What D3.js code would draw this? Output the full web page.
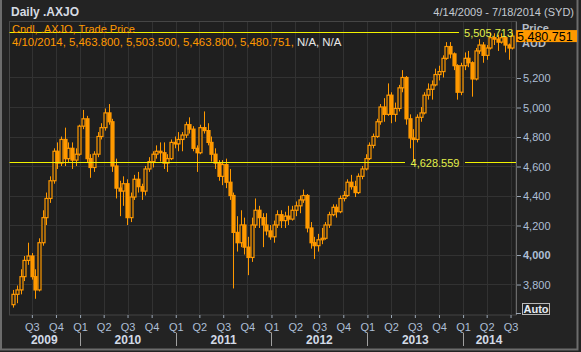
<!DOCTYPE html>
<html>
<head>
<meta charset="utf-8">
<script src="https://cdn.jsdelivr.net/npm/d3@7"></script>
<style>
    body { margin: 0; background: #232323; }
    svg { display: block; font-family: "Liberation Sans", Arial, sans-serif; }
</style>
</head>
<body>
<div id="chart"></div>
<script>

// Range shown on the chart, candles are two-week periods from the start date
const startDate = new Date(2009, 3, 14);
const endDate = new Date(2014, 6, 18);
const periodDays = 14;

const opens = [3660,3730,3760,3850,3960,3990,3850,3760,4080,4250,
    4380,4500,4700,4620,4780,4650,4720,4640,4680,4870,
    4920,4650,4590,4680,4800,4860,4960,4900,4600,4450,
    4430,4480,4250,4390,4510,4460,4430,4580,4630,4680,
    4700,4690,4620,4650,4760,4750,4780,4810,4880,4850,
    4720,4690,4860,4840,4760,4680,4620,4530,4610,4490,
    4400,4150,4080,4200,4050,3980,4200,4300,4250,4200,
    4160,4120,4200,4270,4230,4260,4240,4300,4330,4370,
    4400,4180,4080,4060,4100,4110,4200,4270,4320,4290,
    4380,4400,4490,4460,4420,4530,4580,4650,4740,4800,
    4900,5000,4950,5080,4950,4990,5130,5200,4920,4790,
    4780,4930,4960,5080,5120,5150,5220,5240,5330,5410,
    5360,5280,5100,5280,5330,5300,5190,5380,5420,5350,
    5400,5470,5460,5440,5470,5420,5400];

const highs = [3760,3790,3900,3990,4080,4010,3900,4110,4300,4420,
    4530,4720,4760,4800,4860,4760,4760,4720,4880,4980,
    4940,4680,4700,4830,4890,4990,5020,4920,4650,4500,
    4530,4510,4420,4540,4560,4480,4600,4660,4700,4740,
    4760,4760,4680,4780,4800,4830,4830,4900,4930,4870,
    4740,4880,4970,4890,4800,4720,4640,4640,4650,4580,
    4420,4260,4300,4250,4120,4250,4380,4330,4280,4280,
    4200,4230,4300,4300,4290,4330,4330,4360,4400,4440,
    4410,4220,4120,4140,4180,4220,4290,4340,4340,4400,
    4430,4510,4540,4500,4550,4600,4680,4760,4820,4920,
    5020,5060,5160,5100,5030,5150,5250,5210,4950,4850,
    4950,5000,5100,5160,5180,5260,5280,5350,5440,5440,
    5370,5290,5300,5370,5380,5310,5400,5460,5440,5420,
    5504,5500,5490,5500,5480,5430,5506];

const lows = [3640,3670,3730,3820,3930,3830,3700,3750,4060,4200,
    4350,4480,4580,4600,4600,4620,4580,4600,4670,4850,
    4620,4520,4560,4660,4780,4840,4880,4560,4380,4260,
    4330,4200,4220,4370,4420,4370,4400,4560,4590,4650,
    4630,4580,4560,4640,4720,4700,4700,4790,4820,4700,
    4560,4680,4820,4740,4630,4580,4500,4470,4450,4370,
    3770,4020,4050,4000,3860,3950,4180,4180,4050,4130,
    4100,4080,4180,4180,4180,4200,4230,4260,4280,4350,
    4150,4040,3970,4020,4070,4100,4180,4260,4250,4280,
    4360,4390,4440,4390,4410,4510,4570,4640,4720,4790,
    4880,4900,4940,4890,4900,4970,5100,4880,4720,4628,
    4760,4900,4950,5050,5050,5140,5180,5200,5320,5330,
    5250,5050,5080,5250,5270,5070,5180,5360,5300,5320,
    5390,5420,5380,5430,5370,5320,5390];

const closes = [3730,3760,3850,3960,3990,3850,3760,4080,4250,4380,
    4500,4700,4620,4780,4650,4720,4640,4680,4870,4920,
    4650,4590,4680,4800,4860,4960,4900,4600,4450,4430,
    4480,4250,4390,4510,4460,4430,4580,4630,4680,4700,
    4690,4620,4650,4760,4750,4780,4810,4880,4850,4720,
    4690,4860,4840,4760,4680,4620,4530,4610,4490,4400,
    4150,4080,4200,4050,3980,4200,4300,4250,4200,4160,
    4120,4200,4270,4230,4260,4240,4300,4330,4370,4400,
    4180,4080,4060,4100,4110,4200,4270,4320,4290,4380,
    4400,4490,4460,4420,4530,4580,4650,4740,4800,4900,
    5000,4950,5080,4950,4990,5130,5200,4920,4790,4780,
    4930,4960,5080,5120,5150,5220,5240,5330,5410,5360,
    5280,5100,5280,5330,5300,5190,5380,5420,5350,5400,
    5470,5460,5440,5470,5420,5400,5480.751];

const yTicks = [3800, 4000, 4200, 4400, 4600, 4800, 5000, 5200];
const years = [2009, 2010, 2011, 2012, 2013, 2014];
const markerLines = [5505.713, 4628.559];
const legendValues = ["4/10/2014", "5,463.800", "5,503.500", "5,463.800", "5,480.751"];
const lastPrice = 5480.751;


class CandleVis {

    constructor(_parentElement) {
        this.parentElement = _parentElement;
        this.initVis();
    }

    /*
     * Initialize visualization
     */
    initVis() {
        let vis = this;

        vis.width = 581;
        vis.height = 352;
        vis.plot = {left: 9.5, top: 21.5, right: 516, bottom: 315};

        vis.colors = {
            'bg': '#232323',
            'plotBg': '#1f1f1f',
            'grid': '#323232',
            'frame': '#454545',
            'orange': '#ff9900',
            'yellow': '#f2f200',
            'yellowText': '#e4f04a',
            'axisText': '#adbfd6',
            'yearText': '#d2dae6'
        }

        vis.svg = d3.select("#" + vis.parentElement).append("svg")
            .attr("width", vis.width)
            .attr("height", vis.height);

        // panel + window border
        vis.svg.append("rect")
            .attr("width", vis.width).attr("height", vis.height)
            .attr("fill", vis.colors.bg);
        vis.svg.append("path")
            .attr("d", "M1,0V349.5H577.5V0")
            .attr("fill", "none")
            .attr("stroke", "#6c6c6c")
            .attr("stroke-width", 2);

        // plot area
        vis.svg.append("rect")
            .attr("x", vis.plot.left).attr("y", vis.plot.top)
            .attr("width", vis.plot.right - vis.plot.left)
            .attr("height", vis.plot.bottom - vis.plot.top)
            .attr("fill", vis.colors.plotBg)
            .attr("stroke", vis.colors.frame);

        /*
         Scales
         */
        vis.x = d3.scaleTime()
            .domain([startDate, endDate])
            .range([11.4, 515]);

        vis.y = d3.scaleLinear()
            .domain([3590, 5583])
            .range([vis.plot.bottom, vis.plot.top - 0.5]);

        vis.gridGroup = vis.svg.append("g").attr("class", "grid");
        vis.candleGroup = vis.svg.append("g").attr("class", "candles");
        vis.markerGroup = vis.svg.append("g").attr("class", "markers");

        vis.wrangleData();
    }

    wrangleData() {
        let vis = this;

        vis.candles = closes.map((c, i) => {
            let d0 = d3.timeDay.offset(startDate, i * periodDays);
            return {
                date: d0,
                mid: d3.timeDay.offset(d0, periodDays / 2),
                open: opens[i],
                high: highs[i],
                low: lows[i],
                close: c
            };
        });

        vis.quarters = d3.timeMonth.every(3).range(startDate, endDate);
        vis.yearStarts = years.slice(1).map(yr => new Date(yr, 0, 1));

        vis.updateVis();
    }

    updateVis() {
        let vis = this;

        // gridlines
        vis.gridGroup.selectAll(".vgrid")
            .data(vis.quarters)
            .enter().append("line")
            .attr("class", "vgrid")
            .attr("x1", d => Math.round(vis.x(d)) + 0.5)
            .attr("x2", d => Math.round(vis.x(d)) + 0.5)
            .attr("y1", vis.plot.top + 0.5)
            .attr("y2", vis.plot.bottom)
            .attr("stroke", vis.colors.grid);

        vis.gridGroup.selectAll(".hgrid")
            .data(yTicks)
            .enter().append("line")
            .attr("class", "hgrid")
            .attr("x1", vis.plot.left + 0.5)
            .attr("x2", vis.plot.right)
            .attr("y1", d => Math.round(vis.y(d)) + 0.5)
            .attr("y2", d => Math.round(vis.y(d)) + 0.5)
            .attr("stroke", vis.colors.grid);

        // candles
        let bw = 3;
        let candle = vis.candleGroup.selectAll(".candle")
            .data(vis.candles)
            .enter().append("g")
            .attr("class", "candle");

        candle.append("line")
            .attr("x1", d => Math.round(vis.x(d.mid)) + 0.5)
            .attr("x2", d => Math.round(vis.x(d.mid)) + 0.5)
            .attr("y1", d => vis.y(d.high))
            .attr("y2", d => vis.y(d.low))
            .attr("stroke", vis.colors.orange)
            .attr("stroke-width", 1);

        candle.append("rect")
            .attr("x", d => Math.round(vis.x(d.mid)) + 0.5 - bw / 2)
            .attr("y", d => vis.y(Math.max(d.open, d.close)))
            .attr("width", bw)
            .attr("height", d => Math.max(1, Math.abs(vis.y(d.open) - vis.y(d.close))))
            .attr("fill", d => d.close >= d.open ? vis.colors.plotBg : vis.colors.orange)
            .attr("stroke", vis.colors.orange)
            .attr("stroke-width", 1.2);

        // horizontal marker lines with value labels
        let fmt = d3.format(",.3f");
        let labelPos = [{x: 513, anchor: "end", gap: [459, 516]}, {x: 435, anchor: "middle", gap: [405, 465]}];

        markerLines.forEach((v, i) => {
            let yy = Math.round(vis.y(v)) + 0.5;
            let p = labelPos[i];
            vis.markerGroup.append("line")
                .attr("x1", vis.plot.left).attr("x2", p.gap[0])
                .attr("y1", yy).attr("y2", yy)
                .attr("stroke", vis.colors.yellow);
            if (p.gap[1] < vis.plot.right) {
                vis.markerGroup.append("line")
                    .attr("x1", p.gap[1]).attr("x2", vis.plot.right)
                    .attr("y1", yy).attr("y2", yy)
                    .attr("stroke", vis.colors.yellow);
            }
            vis.markerGroup.append("text")
                .attr("x", p.x).attr("y", yy + 4)
                .attr("text-anchor", p.anchor)
                .attr("font-size", "11px")
                .attr("fill", vis.colors.yellowText)
                .text(fmt(v));
        });

        // right price axis
        let yAxis = d3.axisRight(vis.y)
            .tickValues(yTicks)
            .tickSize(5)
            .tickPadding(2)
            .tickFormat(d3.format(","));

        let yg = vis.svg.append("g")
            .attr("class", "y-axis axis")
            .attr("transform", "translate(" + vis.plot.right + ",0.5)")
            .call(yAxis);
        yg.select(".domain").remove();
        yg.selectAll(".tick line").attr("stroke", "#9aa6b4");
        yg.selectAll(".tick text")
            .attr("fill", vis.colors.axisText)
            .attr("font-size", "11px")
            .attr("font-family", "Liberation Sans, Arial, sans-serif")
            .attr("font-weight", d => d === 4000 ? "bold" : "normal");

        vis.svg.append("line")
            .attr("x1", vis.plot.right + 0.5).attr("x2", vis.plot.right + 0.5)
            .attr("y1", vis.plot.top).attr("y2", vis.plot.bottom)
            .attr("stroke", "#6a6a6a");

        // bottom quarter axis
        let xAxis = d3.axisBottom(vis.x)
            .tickValues(vis.quarters)
            .tickSize(3)
            .tickPadding(5)
            .tickFormat(d => "Q" + (Math.floor(d.getMonth() / 3) + 1));

        let xg = vis.svg.append("g")
            .attr("class", "x-axis axis")
            .attr("transform", "translate(0," + vis.plot.bottom + ")")
            .call(xAxis);
        xg.select(".domain").remove();
        xg.selectAll(".tick line").attr("stroke", "#9aa6b4");
        xg.selectAll(".tick text")
            .attr("fill", vis.colors.axisText)
            .attr("font-size", "11px")
            .attr("font-family", "Liberation Sans, Arial, sans-serif");

        // year separators + labels
        vis.svg.selectAll(".year-sep")
            .data(vis.yearStarts)
            .enter().append("line")
            .attr("class", "year-sep")
            .attr("x1", d => Math.round(vis.x(d)) + 0.5)
            .attr("x2", d => Math.round(vis.x(d)) + 0.5)
            .attr("y1", 333).attr("y2", 346)
            .attr("stroke", "#a0a0a0");

        let bounds = [vis.x(startDate) - 3].concat(vis.yearStarts.map(d => vis.x(d)), [vis.x(endDate)]);
        vis.svg.selectAll(".year-label")
            .data(years)
            .enter().append("text")
            .attr("class", "year-label")
            .attr("x", (d, i) => (bounds[i] + bounds[i + 1]) / 2)
            .attr("y", 344)
            .attr("text-anchor", "middle")
            .attr("font-size", "12px")
            .attr("font-weight", "bold")
            .attr("fill", vis.colors.yearText)
            .text(d => d);

        // Auto button
        vis.svg.append("line")
            .attr("x1", vis.plot.right).attr("x2", 521)
            .attr("y1", 313.5).attr("y2", 313.5)
            .attr("stroke", "#9aa6b4");
        vis.svg.append("rect")
            .attr("x", 522.5).attr("y", 303.5)
            .attr("width", 27).attr("height", 11)
            .attr("fill", "none")
            .attr("stroke", "#b8b8b8");
        vis.svg.append("text")
            .attr("x", 536).attr("y", 313)
            .attr("text-anchor", "middle")
            .attr("font-size", "11px")
            .attr("font-weight", "bold")
            .attr("fill", "#e6ecf4")
            .text("Auto");

        // header texts
        vis.svg.append("text")
            .attr("x", 11).attr("y", 16)
            .attr("font-size", "12px")
            .attr("font-weight", "bold")
            .attr("fill", "#d6dbe2")
            .text("Daily .AXJO");

        vis.svg.append("text")
            .attr("x", 574).attr("y", 16)
            .attr("text-anchor", "end")
            .attr("font-size", "11px")
            .attr("fill", "#c4cad2")
            .text(d3.timeFormat("%-m/%-d/%Y")(startDate) + " - " + d3.timeFormat("%-m/%-d/%Y")(endDate) + " (SYD)");

        // legend
        vis.svg.append("text")
            .attr("x", 12).attr("y", 33)
            .attr("font-size", "11px")
            .attr("fill", vis.colors.orange)
            .text("Cndl, .AXJO, Trade Price");

        let leg = vis.svg.append("text")
            .attr("x", 12).attr("y", 46)
            .attr("font-size", "11.4px");
        leg.append("tspan")
            .attr("fill", vis.colors.orange)
            .text(legendValues.join(", ") + ",");
        leg.append("tspan")
            .attr("fill", "#e8e8e8")
            .text(" N/A, N/A");

        // price header + last value box
        vis.svg.append("text")
            .attr("x", 522).attr("y", 32)
            .attr("font-size", "11px")
            .attr("font-weight", "bold")
            .attr("fill", "#b4bcc6")
            .text("Price");
        vis.svg.append("text")
            .attr("x", 522).attr("y", 47)
            .attr("font-size", "11px")
            .attr("font-weight", "bold")
            .attr("fill", "#b4bcc6")
            .text("AUD");

        let ly = vis.y(lastPrice);
        vis.svg.append("rect")
            .attr("x", 516).attr("y", ly - 6)
            .attr("width", 61).attr("height", 12)
            .attr("fill", vis.colors.orange);
        vis.svg.append("text")
            .attr("x", 517).attr("y", ly + 4.5)
            .attr("font-size", "12.5px")
            .attr("fill", "#000")
            .text(d3.format(",.3f")(lastPrice));
    }
}

let chart = new CandleVis("chart");

</script>
</body>
</html>
